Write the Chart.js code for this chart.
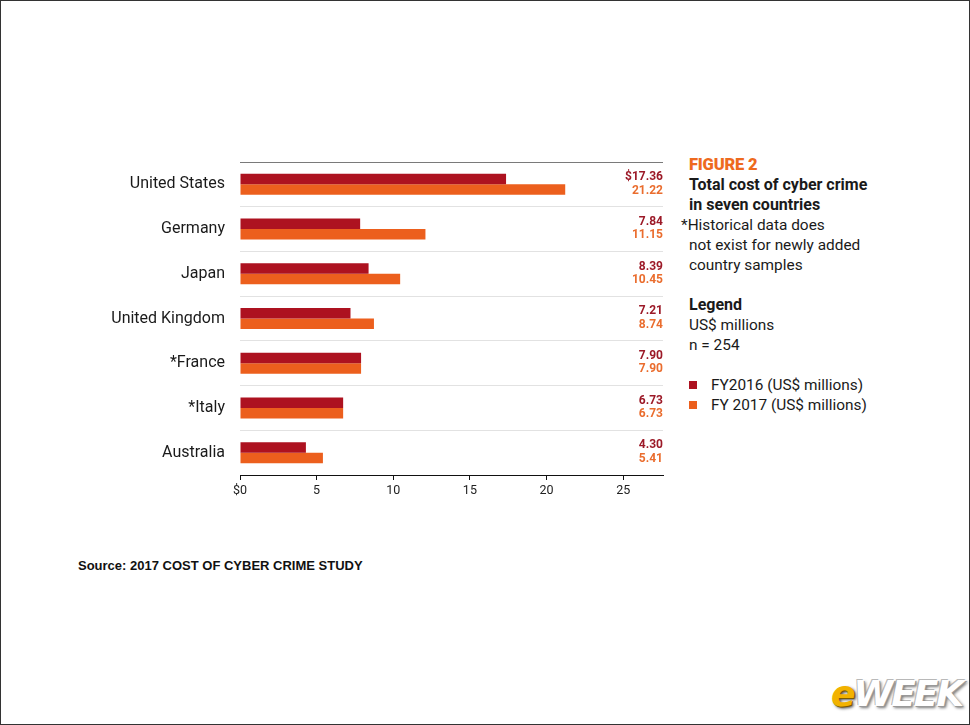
<!DOCTYPE html>
<html>
<head>
<meta charset="utf-8">
<script src="https://cdn.jsdelivr.net/npm/chart.js@4/dist/chart.umd.min.js"></script>
<style>
  body { margin: 0; background: #fff; }
  #page { position: relative; width: 970px; height: 725px; box-sizing: border-box; border: 1px solid #333; overflow: hidden; font-family: Roboto, sans-serif; }
  #wrap { position: absolute; left: 0; top: 0; width: 680px; height: 520px; }
  #side { position: absolute; left: 688px; top: 154px; font-size: 15.4px; line-height: 20px; color: #1a1a1a; }
  #side .fig { color: #ee6a1e; font-weight: 900; font-size: 16.5px; letter-spacing: -0.2px; }
  #side b { font-weight: 700; font-size: 16px; }
  #side .ast { margin-left: -8px; }
  .leg { display: flex; align-items: center; }
  .leg i { display: inline-block; width: 8px; height: 8px; margin-right: 14px; }
  #source { position: absolute; left: 77px; top: 557px; font: bold 13px "Liberation Sans", Arial, sans-serif; color: #111; }
  #logo { position: absolute; left: 830px; top: 672px; font: italic 900 36px "DejaVu Sans", sans-serif; letter-spacing: -2px; color: #fff; text-shadow: 1px 1px 0 #999, 2px 2px 3px #777, -1px -1px 0 #bbb; }
  #logo span { color: #f2b200; text-shadow: 1px 1px 0 #7a5a00, 2px 2px 3px #555; }
</style>
</head>
<body>
<div id="page">
  <div id="wrap"><canvas id="chart"></canvas></div>
  <div id="side">
    <div class="fig">FIGURE 2</div>
    <div><b>Total cost of cyber crime</b></div>
    <div><b>in seven countries</b></div>
    <div><span class="ast">*</span>Historical data does</div>
    <div>not exist for newly added</div>
    <div>country samples</div>
    <div>&nbsp;</div>
    <div><b>Legend</b></div>
    <div>US$ millions</div>
    <div>n = 254</div>
    <div>&nbsp;</div>
    <div id="legend"></div>
  </div>
  <div id="source">Source: 2017 COST OF CYBER CRIME STUDY</div>
  <div id="logo"><span>e</span>WEEK</div>
</div>
<script>
var countries = ["United States", "Germany", "Japan", "United Kingdom", "*France", "*Italy", "Australia"];
var seriesNames = ["FY2016 (US$ millions)", "FY 2017 (US$ millions)"];
var fy2016 = [17.36, 7.84, 8.39, 7.21, 7.90, 6.73, 4.30];
var fy2017 = [21.22, 12.1, 10.45, 8.74, 7.90, 6.73, 5.41];
var fy2016Labels = ["$17.36", "7.84", "8.39", "7.21", "7.90", "6.73", "4.30"];
var fy2017Labels = ["21.22", "11.15", "10.45", "8.74", "7.90", "6.73", "5.41"];
var xTicks = [0, 5, 10, 15, 20, 25];
var barColors = ["#ad1220", "#ec5f1d"];
var textColors = ["#9c1a28", "#ea6d2e"];

var legendHtml = "";
for (var i = 0; i < seriesNames.length; i++) {
  legendHtml += '<div class="leg"><i style="background:' + barColors[i] + '"></i>' + seriesNames[i] + '</div>';
}
document.getElementById("legend").innerHTML = legendHtml;

var valueLabels = {
  id: "valueLabels",
  afterDatasetsDraw: function(chart) {
    var ctx = chart.ctx;
    var lbls = [fy2016Labels, fy2017Labels];
    ctx.save();
    ctx.font = "bold 12px Roboto, sans-serif";
    ctx.textAlign = "right";
    ctx.textBaseline = "middle";
    for (var d = 0; d < 2; d++) {
      var meta = chart.getDatasetMeta(d);
      ctx.fillStyle = textColors[d];
      meta.data.forEach(function(bar, j) {
        ctx.fillText(lbls[d][j], chart.chartArea.right, bar.y + (d === 0 ? -2 : 1));
      });
    }
    ctx.restore();
  }
};

var ctx = document.getElementById("chart").getContext("2d");
var myChart = new Chart(ctx, {
  type: "bar",
  data: {
    labels: countries,
    datasets: [
      { label: seriesNames[0], data: fy2016, backgroundColor: barColors[0] },
      { label: seriesNames[1], data: fy2017, backgroundColor: barColors[1] }
    ]
  },
  options: {
    indexAxis: "y",
    responsive: true,
    maintainAspectRatio: false,
    animation: false,
    barPercentage: 1,
    categoryPercentage: 0.47,
    layout: { padding: { left: 0, top: 161, right: 18, bottom: 16 } },
    plugins: { legend: { display: false }, tooltip: { enabled: false } },
    scales: {
      x: {
        min: 0,
        max: 27.6,
        afterFit: function(scale) { scale.height = 30; },
        afterBuildTicks: function(scale) { scale.ticks = xTicks.map(function(v) { return { value: v }; }); },
        border: { display: true, color: "#111", width: 1 },
        grid: { drawOnChartArea: false, drawTicks: true, tickLength: 5, color: "#111" },
        ticks: {
          padding: 3,
          color: "#222",
          font: { family: "Roboto", size: 12.5 },
          callback: function(v) { return v === 0 ? "$0" : String(v); }
        }
      },
      y: {
        afterFit: function(scale) { scale.width = 239; },
        border: { display: false },
        grid: {
          offset: true,
          drawTicks: false,
          color: function(c) { return c.index === 0 ? "#7a7a7a" : "#e2e2e2"; }
        },
        ticks: { padding: 15, color: "#1a1a1a", font: { family: "Roboto", size: 16 } }
      }
    }
  },
  plugins: [valueLabels]
});
</script>
</body>
</html>
